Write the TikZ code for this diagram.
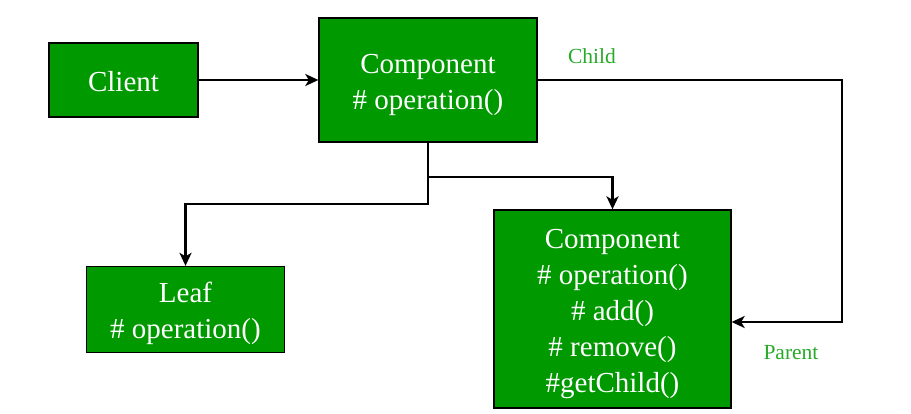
\documentclass[tikz,border=0pt]{standalone}
\usepackage{fontspec}
\setmainfont{Liberation Serif}
\usetikzlibrary{arrows.meta}
\definecolor{boxgreen}{RGB}{0,153,0}
\definecolor{labgreen}{RGB}{40,170,40}
\newcommand\boxtext[1]{\raisebox{-4pt}[\height][\depth]{\begin{tabular}{@{}c@{}}#1\end{tabular}}}
\begin{document}
\begin{tikzpicture}[x=1pt,y=-1pt,
  box/.style={draw=black,line width=1.3pt,fill=boxgreen,text=white,
    inner sep=0pt,font=\fontsize{29}{36}\selectfont},
  conn/.style={line width=2.2pt,-{Stealth[length=13pt,width=12pt,inset=3.5pt]}},
  lab/.style={text=labgreen,font=\fontsize{21.5}{26}\selectfont,inner sep=0pt}]
\useasboundingbox (0,0) rectangle (911,414);
\node[box,minimum width=149pt,minimum height=74pt] (client) at (123.5,80) {\boxtext{Client}};
\node[box,minimum width=218pt,minimum height=124pt] (comp) at (428,80) {\boxtext{Component\\\# operation()}};
\node[box,minimum width=198pt,minimum height=86pt] (leaf) at (185.5,309.5) {\boxtext{Leaf\\\# operation()}};
\node[box,minimum width=237pt,minimum height=198pt] (composite) at (612.5,309) {\boxtext{Component\\\# operation()\\\# add()\\\# remove()\\\#getChild()}};
\node[lab] (child) at (592,56) {Child};
\node[lab] (parent) at (791,353) {Parent};
\coordinate (jr) at (428,177);
\coordinate (jl) at (428,204);
\coordinate (pr) at (842,322);
\draw[conn] (client.east) -- (comp.west);
\draw[conn] (comp.south) -- (jl) -| (leaf.north);
\draw[conn] (jr) -| (composite.north);
\draw[conn] (comp.east) -| (pr) -- (composite.east |- pr);
\end{tikzpicture}
\end{document}
